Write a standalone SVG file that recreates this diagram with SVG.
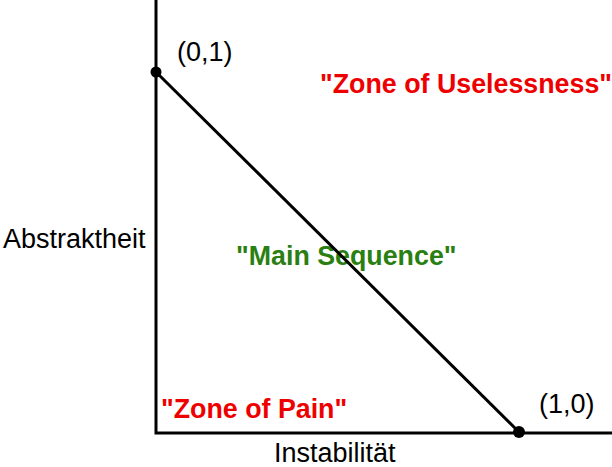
<svg xmlns="http://www.w3.org/2000/svg" width="612" height="467" viewBox="0 0 612 467">
<style>
.lbl{font-family:"Liberation Sans",Arial,sans-serif;font-size:27px;fill:#000}
.zone{font-family:"Liberation Sans",Arial,sans-serif;font-size:26.8px;font-weight:bold}
.red{fill:#ee0000}
.green{fill:#2a7f12}
.ax{stroke:#000;stroke-width:3;fill:none}
</style>
<rect width="612" height="467" fill="#fff"/>
<g id="labels">
<text id="zone-useless" class="zone red" x="320" y="93">"Zone of Uselessness"</text>
<text id="main-seq" class="zone green" x="236" y="265">"Main Sequence"</text>
<text id="zone-pain" class="zone red" x="161" y="418">"Zone of Pain"</text>
<text id="y-label" class="lbl" x="3" y="248">Abstraktheit</text>
<text id="x-label" class="lbl" x="274" y="462">Instabilität</text>
<text id="p01-label" class="lbl" x="177" y="61">(0,1)</text>
<text id="p10-label" class="lbl" x="539" y="413">(1,0)</text>
</g>
<g id="connectors">
<polyline class="ax" points="156,0 156,433 612,433"/>
<line class="ax" x1="156" y1="72" x2="519" y2="432"/>
</g>
<g id="p01"><circle cx="156" cy="72" r="5.5" fill="#000"/></g>
<g id="p10"><circle cx="519" cy="432" r="6" fill="#000"/></g>
</svg>
